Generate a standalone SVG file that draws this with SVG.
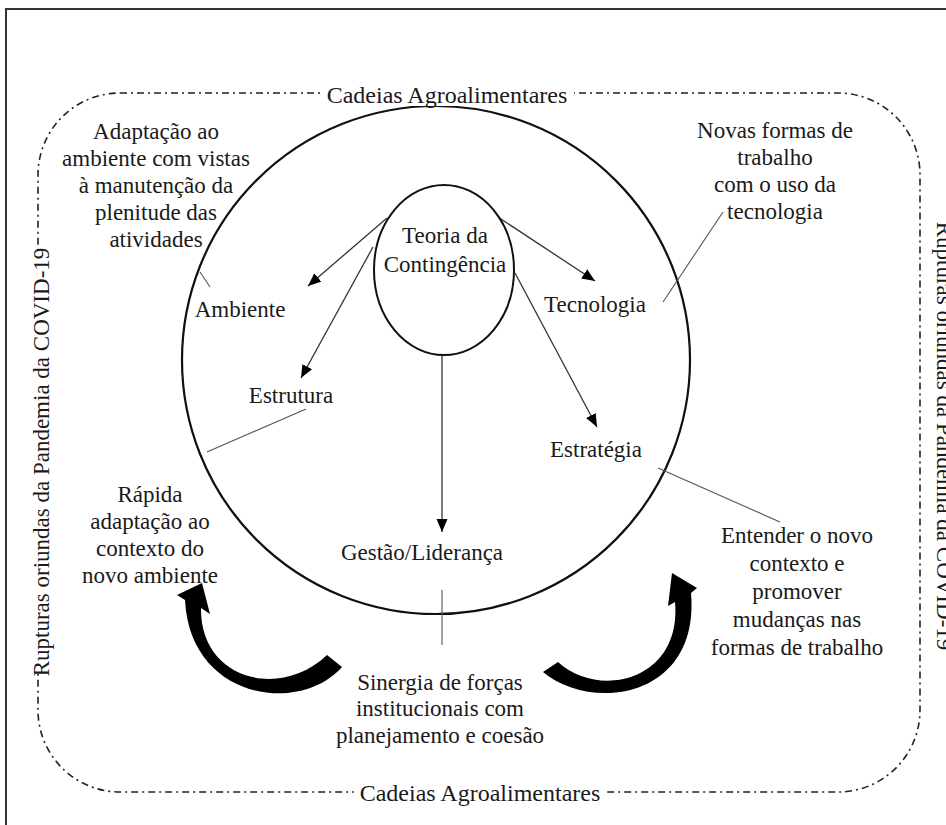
<svg xmlns="http://www.w3.org/2000/svg" width="946" height="825" viewBox="0 0 946 825">
<defs>
<style>
.t{font-family:"Liberation Serif","Times New Roman",serif;font-size:23px;fill:#1a1a1a;text-anchor:middle}
.lbl{font-size:24px}
.conn{stroke:#333;stroke-width:1.3;fill:none}
.lead{stroke:#555;stroke-width:1.1;fill:none}
.big{fill:none;stroke:#111;stroke-width:2.2}
.dash{fill:none;stroke:#222;stroke-width:1.6;stroke-dasharray:7 4 2 4}
.bg{fill:#fff}
.curve{fill:#000}
</style>
<marker id="ah" markerWidth="14" markerHeight="12" refX="13" refY="5.5" orient="auto" markerUnits="userSpaceOnUse">
<path d="M0,0 L13,5.5 L0,11 Z" fill="#000"/>
</marker>
</defs>
<rect width="946" height="825" fill="#fff"/>
<rect id="frame" x="6" y="9" width="1000" height="1000" fill="none" stroke="#333" stroke-width="2"/>
<g id="boundary">
<rect class="dash" x="38" y="93" width="882" height="699" rx="82" ry="82"/>
</g>
<g id="context-circle">
<circle class="big" cx="436" cy="360" r="254"/>
</g>
<g id="n-cadeias-top">
<rect class="bg" x="322" y="84" width="252" height="22"/>
<text class="t lbl" x="447" y="103">Cadeias Agroalimentares</text>
</g>
<g id="n-cadeias-bottom">
<rect class="bg" x="354" y="784" width="252" height="20"/>
<text class="t lbl" x="480" y="801">Cadeias Agroalimentares</text>
</g>
<g id="n-rupturas-left">
<rect class="bg" x="31" y="250" width="20" height="424"/>
<text class="t" transform="translate(49,462) rotate(-90)">Rupturas oriundas da Pandemia da COVID-19</text>
</g>
<g id="n-rupturas-right">
<text class="t" transform="translate(937,436) rotate(90)">Rupturas oriundas da Pandemia da COVID-19</text>
</g>
<g id="connectors">
<line class="conn" x1="387" y1="218" x2="308" y2="286" marker-end="url(#ah)"/>
<line class="conn" x1="373" y1="247" x2="301" y2="378" marker-end="url(#ah)"/>
<line class="conn" x1="498" y1="217" x2="595" y2="281" marker-end="url(#ah)"/>
<line class="conn" x1="515" y1="273" x2="597" y2="427" marker-end="url(#ah)"/>
<line class="conn" x1="442" y1="355" x2="442" y2="532" marker-end="url(#ah)"/>
<line class="lead" x1="200" y1="272" x2="210" y2="287"/>
<line class="lead" x1="663" y1="302" x2="723" y2="212"/>
<line class="lead" x1="658" y1="468" x2="780" y2="522"/>
<line class="lead" x1="306" y1="409" x2="207" y2="452"/>
<line class="lead" x1="442" y1="590" x2="442" y2="645"/>
<g id="cycle-arrows">
<path class="curve" d="M327,655 L342,667 C300,715 190,700 185,600 L177,595 L202,583 L210,614 L201,608 C200,680 280,700 327,655 Z"/>
<path class="curve" d="M558,662 L543,672 C590,712 700,700 691,593 L697,588 L672,573 L668,606 L675,602 C682,680 600,700 558,662 Z"/>
</g>
</g>
<g id="n-teoria">
<ellipse cx="444" cy="270" rx="70" ry="85" fill="none" stroke="#111" stroke-width="2"/>
<text class="t" x="445" y="243">Teoria da</text>
<text class="t" x="445" y="272">Contingência</text>
</g>
<g id="n-ambiente"><text class="t" x="240" y="317">Ambiente</text></g>
<g id="n-tecnologia"><text class="t" x="595" y="312">Tecnologia</text></g>
<g id="n-estrutura"><text class="t" x="291" y="403">Estrutura</text></g>
<g id="n-estrategia"><text class="t" x="596" y="457">Estratégia</text></g>
<g id="n-gestao"><text class="t" x="422" y="560">Gestão/Liderança</text></g>
<g id="n-adaptacao">
<text class="t" x="156" y="139">Adaptação ao</text>
<text class="t" x="156" y="166">ambiente com vistas</text>
<text class="t" x="156" y="193">à manutenção da</text>
<text class="t" x="156" y="220">plenitude das</text>
<text class="t" x="156" y="247">atividades</text>
</g>
<g id="n-novas">
<text class="t" x="775" y="138">Novas formas de</text>
<text class="t" x="775" y="165">trabalho</text>
<text class="t" x="775" y="192">com o uso da</text>
<text class="t" x="775" y="219">tecnologia</text>
</g>
<g id="n-rapida">
<text class="t" x="150" y="502">Rápida</text>
<text class="t" x="150" y="529">adaptação ao</text>
<text class="t" x="150" y="556">contexto do</text>
<text class="t" x="150" y="583">novo ambiente</text>
</g>
<g id="n-entender">
<text class="t" x="797" y="543">Entender o novo</text>
<text class="t" x="797" y="571">contexto e</text>
<text class="t" x="797" y="599">promover</text>
<text class="t" x="797" y="627">mudanças nas</text>
<text class="t" x="797" y="655">formas de trabalho</text>
</g>
<g id="n-sinergia">
<text class="t" x="440" y="690">Sinergia de forças</text>
<text class="t" x="440" y="716">institucionais com</text>
<text class="t" x="440" y="743">planejamento e coesão</text>
</g>
</svg>
